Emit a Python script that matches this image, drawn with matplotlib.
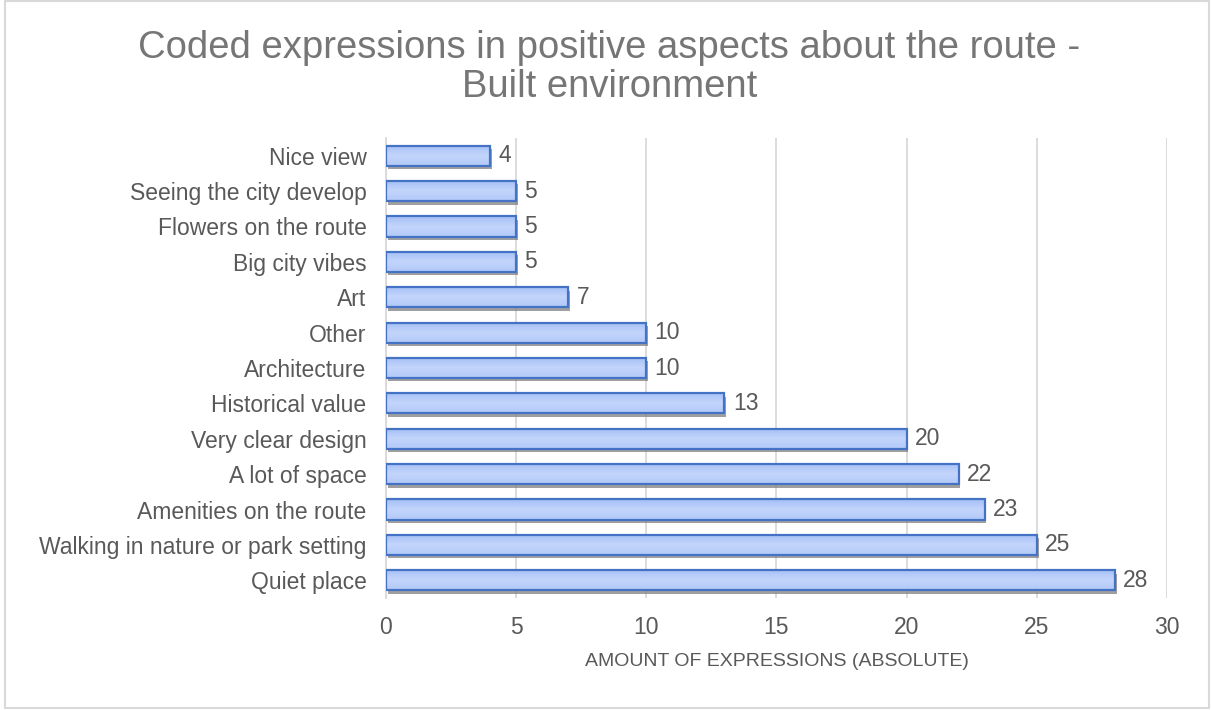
import matplotlib.pyplot as plt
import matplotlib.patheffects as pe
from matplotlib.colors import LinearSegmentedColormap
import numpy as np

plt.rcParams['font.family'] = ['Liberation Sans', 'DejaVu Sans']

# categories listed bottom to top
categories = ['Quiet place', 'Walking in nature or park setting', 'Amenities on the route',
              'A lot of space', 'Very clear design', 'Historical value', 'Architecture',
              'Other', 'Art', 'Big city vibes', 'Flowers on the route',
              'Seeing the city develop', 'Nice view']
counts = [28, 25, 23, 22, 20, 13, 10, 10, 7, 5, 5, 5, 4]
x_ticks = [0, 5, 10, 15, 20, 25, 30]

tick_grey = '#595959'
title_grey = '#767676'
bar_h = 0.57

fig = plt.figure(figsize=(12.11, 7.10), dpi=100)
ax = fig.add_axes([0.3187, 0.1577, 0.6450, 0.6479])

ypos = np.arange(len(categories))
shadow = [pe.SimplePatchShadow(offset=(1.2, -2.4), shadow_rgbFace='#7f7f7f', alpha=0.75), pe.Normal()]
bars = ax.barh(ypos, counts, height=bar_h, color='none', edgecolor='#4472c4',
               linewidth=1.6, zorder=4)

# vertical gradient fill inside each bar, shadow drawn from a plain copy underneath
grad = LinearSegmentedColormap.from_list('bargrad', ['#a4bff5', '#c3d5fb', '#b2c9f8'])
g = np.linspace(0, 1, 64).reshape(-1, 1)
for y, v in zip(ypos, counts):
    under = ax.barh(y, v, height=bar_h, color='#b7ccf8', linewidth=0, zorder=2)[0]
    under.set_path_effects(shadow)
    im = ax.imshow(g, extent=[0, v, y - bar_h / 2, y + bar_h / 2], aspect='auto',
                   cmap=grad, origin='upper', zorder=3)
    im.set_clip_path(under)

for y, v in zip(ypos, counts):
    ax.annotate(str(v), (v, y), xytext=(6, 0), textcoords='offset points',
                va='center', ha='left', fontsize=16.5, color=tick_grey)

ax.set_xlim(0, 30)
ax.set_ylim(-0.5, len(categories) - 0.5)
ax.set_xticks(x_ticks)
ax.set_yticks(ypos)
ax.set_yticklabels(categories)
ax.tick_params(axis='both', length=0, labelsize=16.5, labelcolor=tick_grey)
ax.tick_params(axis='x', pad=13)
ax.tick_params(axis='y', pad=14)
ax.xaxis.grid(True, color='#d9d9d9', linewidth=1.3, zorder=0)
ax.set_axisbelow(True)
for s in ['top', 'right', 'bottom']:
    ax.spines[s].set_visible(False)
ax.spines['left'].set_color('#d9d9d9')
ax.spines['left'].set_linewidth(1.3)

ax.set_xlabel('AMOUNT OF EXPRESSIONS (ABSOLUTE)', fontsize=14, color=tick_grey, labelpad=10)

fig.text(0.503, 0.905, 'Coded expressions in positive aspects about the route -\nBuilt environment',
         ha='center', va='center', fontsize=27.5, color=title_grey, linespacing=1.12)

# light outer frame
fig.patches.append(plt.Rectangle((0.004, 0.003), 0.994, 0.995, transform=fig.transFigure,
                                 fill=False, edgecolor='#d9d9d9', linewidth=1.5))

fig.savefig('out.png', dpi=100)
